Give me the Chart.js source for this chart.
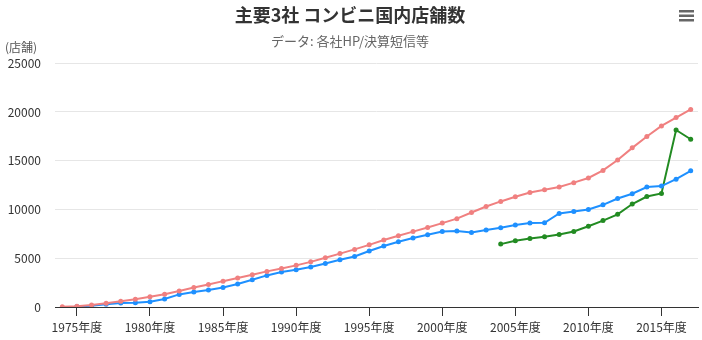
<!DOCTYPE html>
<html>
<head>
<meta charset="utf-8">
<script src="https://cdn.jsdelivr.net/npm/chart.js@4.4.1/dist/chart.umd.min.js"></script>
<style>
  html, body { margin: 0; padding: 0; background: #fff; }
  #wrap { width: 702px; height: 340px; }
</style>
</head>
<body>
<div id="wrap"><canvas id="storeChart" width="702" height="340"></canvas></div>
<script>
// fiscal years 1974-2017
const years = [];
for (let y = 1974; y <= 2017; y++) years.push(y);
const yearLabels = years.map(y => y + "年度");

const seven = [15, 69, 199, 375, 591, 801, 1040, 1306, 1643, 2001,
  2299, 2651, 2964, 3304, 3653, 3954, 4270, 4629, 5058, 5475,
  5905, 6373, 6875, 7314, 7732, 8153, 8602, 9060, 9690, 10303,
  10826, 11310, 11735, 12034, 12298, 12753, 13232, 14005, 15072, 16319,
  17491, 18572, 19422, 20260];

const lawson = [null, 60, 130, 270, 410, 440, 540, 820, 1290, 1540,
  1740, 2010, 2360, 2800, 3240, 3590, 3820, 4100, 4470, 4850,
  5180, 5740, 6250, 6690, 7070, 7410, 7750, 7790, 7640, 7890,
  8120, 8400, 8620, 8640, 9590, 9800, 10000, 10480, 11130, 11610,
  12300, 12400, 13110, 13970];

const famima = [null, null, null, null, null, null, null, null, null, null,
  null, null, null, null, null, null, null, null, null, null,
  null, null, null, null, null, null, null, null, null, null,
  6450, 6800, 7020, 7200, 7440, 7750, 8280, 8860, 9500, 10560,
  11330, 11650, 18150, 17200];

const yTicks = [0, 5000, 10000, 15000, 20000, 25000];

const FONT = "'Noto Sans CJK JP', 'Noto Sans', sans-serif";

function series(label, data, color) {
  return {
    label: label,
    data: data,
    borderColor: color,
    backgroundColor: color,
    borderWidth: 2,
    pointRadius: 2.5,
    pointBorderWidth: 0,
    pointBackgroundColor: color,
    tension: 0,
    spanGaps: false
  };
}

// unit caption above the y axis + export menu glyph
const extras = {
  id: "extras",
  afterDraw(chart) {
    const ctx = chart.ctx;
    ctx.save();
    ctx.font = "12px " + FONT;
    ctx.fillStyle = "#555";
    ctx.textAlign = "left";
    ctx.textBaseline = "middle";
    ctx.fillText("(店舗)", 5, 47);
    ctx.fillStyle = "#666";
    for (let i = 0; i < 3; i++) {
      ctx.fillRect(679, 10 + i * 4.5, 15, 2.5);
    }
    ctx.restore();
  }
};

new Chart(document.getElementById("storeChart"), {
  type: "line",
  data: {
    labels: yearLabels,
    datasets: [
      series("セブン-イレブン", seven, "#F08080"),
      series("ローソン", lawson, "#1E90FF"),
      series("ファミリーマート", famima, "#228B22")
    ]
  },
  options: {
    responsive: false,
    animation: false,
    layout: { padding: { left: 0, right: 2, top: 0, bottom: 0 } },
    plugins: {
      legend: { display: false },
      tooltip: { enabled: false },
      title: {
        display: true,
        text: "主要3社 コンビニ国内店舗数",
        color: "#333",
        font: { family: FONT, size: 18, weight: "bold" },
        padding: { top: 4, bottom: 8 }
      },
      subtitle: {
        display: true,
        text: "データ: 各社HP/決算短信等",
        color: "#666",
        font: { family: FONT, size: 13 },
        padding: { top: 0, bottom: 14 }
      }
    },
    scales: {
      x: {
        type: "category",
        offset: true,
        grid: {
          display: true,
          drawOnChartArea: false,
          drawTicks: true,
          tickLength: 9,
          color: "#333"
        },
        border: { display: true, color: "#333", width: 1 },
        ticks: {
          autoSkip: false,
          maxRotation: 0,
          color: "#333",
          padding: 4,
          font: { family: FONT, size: 12 },
          callback: function (val, i) {
            return years[i] % 5 === 0 ? yearLabels[i] : null;
          }
        },
        afterFit: function (s) { s.height = 33; }
      },
      y: {
        min: 0,
        max: 25000,
        afterBuildTicks: function (s) { s.ticks = yTicks.map(v => ({ value: v })); },
        grid: { color: "#e6e6e6", drawTicks: false },
        border: { display: false },
        ticks: {
          color: "#333",
          padding: 14,
          font: { family: FONT, size: 12 },
          callback: v => String(v)
        },
        afterFit: function (s) { s.width = 55; }
      }
    }
  },
  plugins: [extras]
});
</script>
</body>
</html>
